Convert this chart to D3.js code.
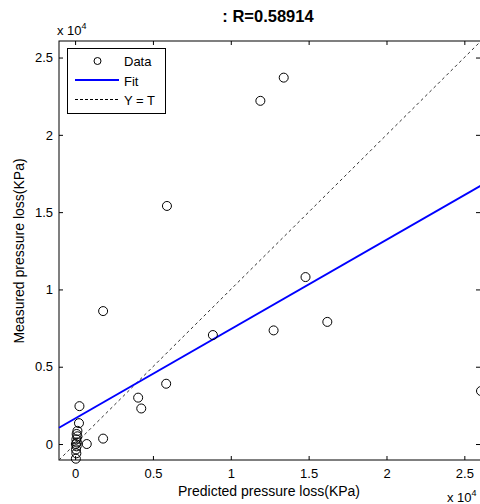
<!DOCTYPE html>
<html><head><meta charset="utf-8">
<script src="https://cdn.jsdelivr.net/npm/d3@7"></script>
<style>body{margin:0;background:#fff;overflow:hidden}svg{display:block;font-family:"Liberation Sans",Arial,sans-serif}</style>
</head><body>
<svg id="c" width="480" height="504"></svg>
<script>
const predicted = [13400,11900,5900,14800,16200,12750,8850,1800,5850,4050,4250,1800,750,280,250,26070,150,100,150,80,120,50,100,60,80,50];
const measured  = [23700,22200,15400,10800,7900,7350,7050,8600,3900,3000,2300,350,0,2450,1350,3430,850,650,500,300,100,0,-150,-350,-600,-950];
const axisLimits = [-1033, 26070];
const tickValues = [0,5000,10000,15000,20000,25000];
const tickLabels = ["0","0.5","1","1.5","2","2.5"];
const fitSlope = 0.578, fitIntercept = 1650;
const titleText = ": R=0.58914";
const legendLabels = ["Data","Fit","Y = T"];

const svg = d3.select("#c");
const L=59,R=481,T=41,B=460;
const x = d3.scaleLinear().domain(axisLimits).range([L,R]);
const y = d3.scaleLinear().domain(axisLimits).range([B,T]);
const fmt = d => tickLabels[tickValues.indexOf(d)];

svg.append("rect").attr("x",L).attr("y",T).attr("width",R-L).attr("height",B-T).attr("fill","none").attr("stroke","#000").attr("stroke-width",1);

const style = g => { g.select(".domain").remove(); g.selectAll("line").attr("stroke","#000"); g.selectAll("text").attr("fill","#000").attr("font-size",13).attr("font-family","Liberation Sans, Arial, sans-serif"); };
svg.append("g").attr("transform",`translate(0,${B})`).call(d3.axisBottom(x).tickValues(tickValues).tickFormat(fmt).tickSizeInner(-4).tickSizeOuter(0).tickPadding(9)).call(style);
svg.append("g").attr("transform",`translate(0,${T})`).call(d3.axisTop(x).tickValues(tickValues).tickFormat("").tickSizeInner(-4).tickSizeOuter(0)).call(style);
svg.append("g").attr("transform",`translate(${L},0)`).call(d3.axisLeft(y).tickValues(tickValues).tickFormat(fmt).tickSizeInner(-4).tickSizeOuter(0).tickPadding(6)).call(style);
svg.append("g").attr("transform",`translate(${R-1},0)`).call(d3.axisRight(y).tickValues(tickValues).tickFormat("").tickSizeInner(-4).tickSizeOuter(0)).call(style);

svg.append("line").attr("x1",x(axisLimits[0])).attr("y1",y(axisLimits[0])).attr("x2",x(axisLimits[1])).attr("y2",y(axisLimits[1]))
  .attr("stroke","#333").attr("stroke-width",1).attr("stroke-dasharray","3,3");
svg.append("line").attr("x1",x(axisLimits[0])).attr("y1",y(fitSlope*axisLimits[0]+fitIntercept))
  .attr("x2",x(axisLimits[1])).attr("y2",y(fitSlope*axisLimits[1]+fitIntercept))
  .attr("stroke","#0000ff").attr("stroke-width",2);
svg.append("g").selectAll("circle").data(predicted.map((p,i)=>[p,measured[i]])).join("circle")
  .attr("cx",d=>x(d[0])).attr("cy",d=>y(d[1])).attr("r",4.5).attr("fill","none").attr("stroke","#000").attr("stroke-width",1);

svg.append("text").attr("x",268).attr("y",22).attr("text-anchor","middle").attr("font-weight","bold").attr("font-size",16.5).text(titleText);
const mult = (gx,gy) => { const t=svg.append("text").attr("x",gx).attr("y",gy).attr("font-size",13);
  t.append("tspan").text("x 10"); t.append("tspan").attr("font-size",9).attr("dy",-6).text("4"); };
mult(57,35); mult(447,502);
svg.append("text").attr("x",269).attr("y",496).attr("text-anchor","middle").attr("font-size",14).text("Predicted pressure loss(KPa)");
svg.append("text").attr("transform","translate(24,251) rotate(-90)").attr("text-anchor","middle").attr("font-size",14).text("Measured pressure loss(KPa)");

const lg = svg.append("g");
lg.append("rect").attr("x",67.5).attr("y",48.5).attr("width",98).attr("height",65).attr("fill","#fff").attr("stroke","#000");
lg.append("circle").attr("cx",97.5).attr("cy",61).attr("r",3.5).attr("fill","none").attr("stroke","#000");
lg.append("line").attr("x1",75).attr("x2",119).attr("y1",80).attr("y2",80).attr("stroke","#0000ff").attr("stroke-width",2);
lg.append("line").attr("x1",75).attr("x2",119).attr("y1",99.5).attr("y2",99.5).attr("stroke","#000").attr("stroke-dasharray","3,2");
legendLabels.forEach((t,i)=>lg.append("text").attr("x",124).attr("y",66+i*19.5).attr("font-size",13).text(t));
</script>
</body></html>
